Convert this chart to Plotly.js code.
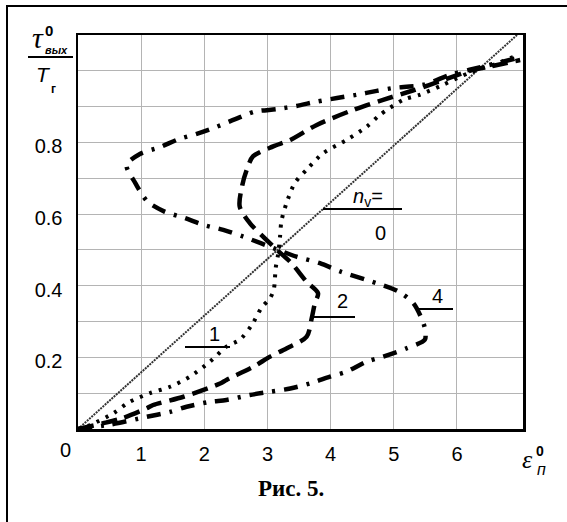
<!DOCTYPE html>
<html><head><meta charset="utf-8">
<script src="https://cdn.plot.ly/plotly-3.0.1.min.js"></script>
<style>html,body{margin:0;padding:0;background:#fff}#chart{width:567px;height:522px}</style>
</head><body><div id="chart"></div>
<script>
// Diagonal reference line (n_v = 0)
const diagX = [0, 6.95];
const diagY = [0, 1.1];

// Curve 1 (dotted)
const c1X = [0, 0.19, 0.56, 0.82, 1.14, 1.46, 1.77, 2.09, 2.35, 2.56, 2.75, 2.91, 3.04, 3.10, 3.13, 3.17, 3.20, 3.22, 3.30, 3.43, 3.64, 3.88, 4.25, 4.57, 4.78, 5.15, 5.41, 5.78, 6.2, 6.63, 6.97];
const c1Y = [0, 0.011, 0.044, 0.076, 0.10, 0.118, 0.146, 0.188, 0.23, 0.249, 0.29, 0.34, 0.365, 0.39, 0.45, 0.49, 0.54, 0.58, 0.63, 0.686, 0.728, 0.77, 0.807, 0.844, 0.877, 0.919, 0.933, 0.961, 0.995, 1.02, 1.045];

// Curve 2 (dashed)
const c2X = [0, 0.4, 0.7, 1.09, 1.19, 1.67, 2.25, 2.35, 2.78, 3.04, 3.30, 3.62, 3.70, 3.75, 3.80, 3.62, 3.38, 3.15, 2.93, 2.72, 2.56, 2.6, 2.67, 2.77, 3.09, 3.36, 3.78, 4.36, 4.83, 5.3, 5.8, 6.2, 6.6, 7.0];
const c2Y = [0, 0.016, 0.03, 0.058, 0.067, 0.09, 0.127, 0.137, 0.174, 0.202, 0.225, 0.258, 0.309, 0.351, 0.379, 0.411, 0.463, 0.5, 0.537, 0.575, 0.621, 0.68, 0.723, 0.761, 0.789, 0.807, 0.849, 0.891, 0.919, 0.945, 0.975, 1.0, 1.015, 1.03];

// Curve 4 (dash-dot)
const c4X = [0, 0.5, 1.09, 1.46, 1.72, 2.09, 2.35, 2.72, 3.04, 3.36, 3.67, 3.99, 4.25, 4.57, 4.83, 5.2, 5.49, 5.50, 5.47, 5.31, 5.07, 4.73, 4.15, 3.83, 3.46, 3.17, 2.62, 2.30, 1.98, 1.69, 1.37, 1.10, 0.91, 0.77, 0.98, 1.30, 1.59, 1.88, 2.2, 2.49, 2.80, 3.15, 3.46, 3.78, 4.10, 4.41, 4.73, 4.99, 5.47, 5.89, 6.2, 6.6, 6.94];
const c4Y = [0, 0.012, 0.034, 0.048, 0.062, 0.076, 0.081, 0.095, 0.104, 0.113, 0.127, 0.146, 0.16, 0.188, 0.202, 0.225, 0.249, 0.27, 0.295, 0.351, 0.384, 0.407, 0.44, 0.463, 0.481, 0.5, 0.537, 0.556, 0.570, 0.589, 0.607, 0.635, 0.686, 0.737, 0.768, 0.787, 0.809, 0.824, 0.844, 0.865, 0.886, 0.893, 0.902, 0.914, 0.924, 0.933, 0.944, 0.952, 0.961, 0.989, 1.003, 1.02, 1.035];

// Tick labels
const xTickVals = [1, 2, 3, 4, 5, 6];
const xTickText = ["1", "2", "3", "4", "5", "6"];
const yTickVals = [0.2, 0.4, 0.6, 0.8];
const yTickText = ["0.2", "0.4", "0.6", "0.8"];

// Layout helpers (pixel -> paper)
const L = 78, R = 523, T = 35, B = 429;
const px = x => (x - L) / (R - L);
const py = y => (B - y) / (B - T);

const traces = [
  {x: diagX, y: diagY, mode: 'lines', line: {color: '#333', width: 2, dash: '2px,1px'}, hoverinfo: 'skip'},
  {x: c1X, y: c1Y, mode: 'lines', line: {color: '#000', width: 4, dash: '3px,7px', shape: 'spline', smoothing: 0.8}},
  {x: c2X, y: c2Y, mode: 'lines', line: {color: '#000', width: 4.5, dash: '16px,8px', shape: 'spline', smoothing: 0.8}},
  {x: c4X, y: c4Y, mode: 'lines', line: {color: '#000', width: 4.5, dash: '14px,9px,3px,9px', shape: 'spline', smoothing: 0.8}}
];

const sans = 'Liberation Sans, Arial, sans-serif';
const serif = 'Liberation Serif, Times New Roman, serif';

const ann = (x, y, text, size, family) => ({
  xref: 'paper', yref: 'paper', x: px(x), y: py(y), text: text, showarrow: false,
  xanchor: 'center', yanchor: 'middle',
  font: {family: family || sans, size: size, color: '#000'}
});

const annotations = [
  ann(65, 450, '0', 20),
  // y title
  ann(38, 38, '<i>τ</i>', 30, serif),
  ann(49, 31, '<b>0</b>', 15),
  ann(56, 50, '<b><i>вых</i></b>', 11),
  ann(43, 74, '<i>T</i>', 21),
  ann(53, 89, '<b>г</b>', 12),
  // x title
  ann(527, 459, '<i>ε</i>', 26, serif),
  ann(540, 451, '<b>0</b>', 14),
  ann(541, 469, '<i>п</i>', 16),
  // curve labels
  ann(368, 197, '<i>n</i><sub>v</sub>=', 20),
  ann(380, 233, '0', 20),
  ann(214, 334, '1', 20),
  ann(342, 301, '2', 20),
  ann(437, 296, '4', 20),
  // caption
  ann(291, 488, '<b>Рис. 5.</b>', 23, serif)
];

const line = (x0, y0, x1, y1, w) => ({type: 'line', xref: 'paper', yref: 'paper',
  x0: px(x0), y0: py(y0), x1: px(x1), y1: py(y1), line: {color: '#000', width: w}});

const shapes = [
  {type: 'rect', xref: 'paper', yref: 'paper', x0: px(7), y0: py(6), x1: px(575), y1: py(530),
   line: {color: '#000', width: 2}, fillcolor: 'rgba(0,0,0,0)', layer: 'below'},
  line(28, 57, 73, 57, 2),
  line(323, 209, 402, 209, 2),
  line(185, 347, 230, 347, 2),
  line(313, 317, 355, 317, 2),
  line(417, 309, 453, 309, 2)
];

const layout = {
  width: 567, height: 522,
  margin: {l: L, r: 567 - R, t: T, b: 522 - B, pad: 0},
  paper_bgcolor: '#fff', plot_bgcolor: '#fff',
  showlegend: false,
  xaxis: {
    range: [0, 7.045], tickmode: 'array', tickvals: xTickVals, ticktext: xTickText,
    showgrid: true, gridcolor: '#b4b4b4', gridwidth: 1, zeroline: false,
    showline: true, mirror: true, linecolor: '#000', linewidth: 2.5, ticks: '',
    ticklabelstandoff: 5,
    tickfont: {family: sans, size: 20, color: '#000'}
  },
  yaxis: {
    range: [0, 1.1], tickmode: 'array', tickvals: yTickVals, ticktext: yTickText,
    showgrid: true, gridcolor: '#b4b4b4', gridwidth: 1, zeroline: false,
    minor: {tick0: 0, dtick: 0.1, showgrid: true, gridcolor: '#b4b4b4', gridwidth: 1, ticks: ''},
    showline: true, mirror: true, linecolor: '#000', linewidth: 2.5, ticks: '',
    ticklabelstandoff: 9, ticklabelshift: 4,
    tickfont: {family: sans, size: 20, color: '#000'}
  },
  annotations: annotations,
  shapes: shapes
};

Plotly.newPlot('chart', traces, layout, {displayModeBar: false, staticPlot: true});
</script></body></html>
